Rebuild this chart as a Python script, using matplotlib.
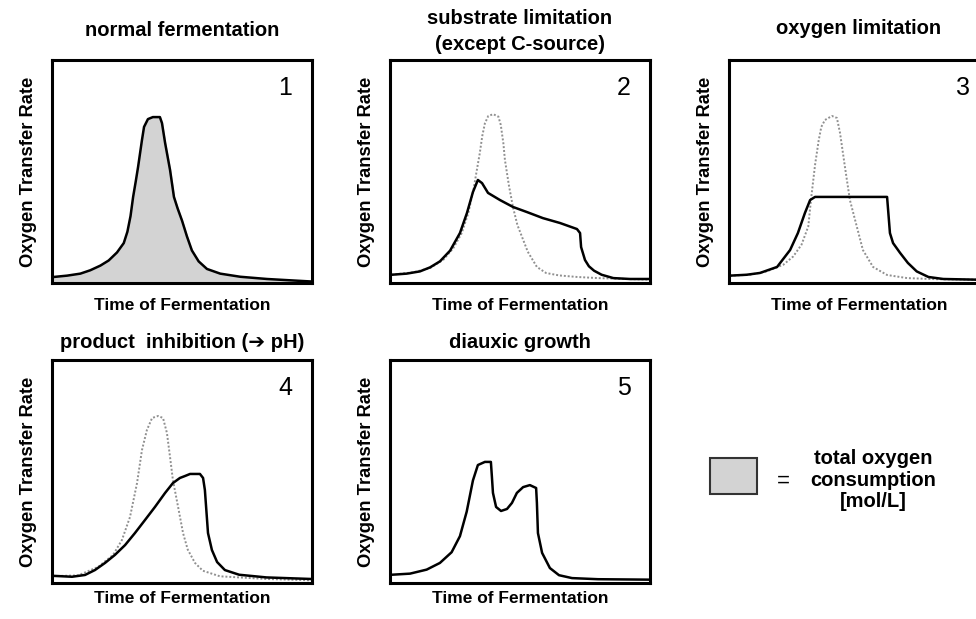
import matplotlib.pyplot as plt
from matplotlib.patches import Rectangle

plt.rcParams['font.family'] = ['Liberation Sans', 'DejaVu Sans']

# curves, x and y in percent of each panel box
normal_x = [0.6, 5.8, 10.9, 14.7, 18.6, 21.8, 25, 27.6, 29, 30.2, 31.2, 32.2, 33.1, 34.6, 35.4, 36.9,
            38.8, 41.5, 42.3, 43.5, 45.4, 46.9, 48.3, 50, 51.9, 53.8, 56.4, 59.6, 64.7, 72.4, 82.7, 91.7, 99.4]
normal_y = [2.7, 3.3, 4.2, 5.7, 7.8, 10.1, 13.7, 17.9, 23, 30, 38.6, 45.5, 52, 64.1, 70, 73.5,
            74.4, 74.4, 71.7, 62.8, 50.7, 38.6, 33.5, 28, 20.9, 14.6, 9.7, 6.3, 4.2, 2.8, 1.8, 1.2, 0.7]

ref2_x = [0.6, 9, 15.4, 20.5, 24.4, 27.6, 30.1, 32.1, 33.3, 34.5, 35.5, 36.5, 37.8, 39.7, 41.7,
          42.6, 43.6, 44.2, 45.7, 47.3, 49, 50.8, 53, 56.5, 60, 65, 72, 80, 99.4]
ref2_y = [3.7, 4.8, 6.7, 10.4, 15.7, 22.4, 31.3, 41.8, 50, 58, 66, 71.6, 74.9, 75.7, 74.6,
          70.9, 62.7, 55.2, 44, 34, 26, 20.6, 14, 7.2, 4.5, 3.4, 2.7, 2.2, 1.5]
sub_x = [0.6, 6.4, 11.5, 15.4, 19.2, 23.1, 26.9, 29.6, 31.9, 33.8, 35.4, 37.7, 42.3, 47.3,
         52.7, 58.8, 65.4, 71.9, 73.1, 73.5, 75, 76.5, 78.5, 81.4, 85.9, 92.3, 99.4]
sub_y = [3.7, 4.2, 5.2, 7, 9.7, 14.5, 22.4, 31.4, 40.8, 46.2, 44.8, 40.4, 37.2, 34.1,
         31.8, 29.1, 26.9, 24.2, 22.4, 16.1, 10.3, 7.5, 5.5, 3.7, 2.2, 1.8, 1.8]

ref3_x = [0.4, 8.1, 14.5, 20.9, 24.7, 27.9, 30.5, 31.5, 33.1, 34.5, 35.5, 36.9, 39.6, 41.5,
          42.7, 44.6, 46.5, 49.2, 51.5, 55.4, 60.8, 68.5, 80, 95]
ref3_y = [3.3, 3.7, 5.2, 8.2, 11.9, 17.2, 25.4, 37, 53, 64, 70, 73.1, 74.9, 74,
          67.3, 52, 37.2, 25.1, 14.8, 7.2, 3.6, 2.2, 1.7, 1.5]
oxy_x = [0.4, 6.8, 11.9, 18.5, 23.5, 26.5, 29.2, 31.2, 33.1, 60.8, 61.2, 61.9, 63.1, 65.8,
         68.8, 72.2, 76.7, 82.4, 95]
oxy_y = [3.3, 3.7, 4.5, 7.2, 14.8, 22.4, 31.4, 37.2, 38.6, 38.6, 32.7, 22.4, 17.9, 13.5,
         9, 5.2, 2.7, 1.8, 1.5]

ref4_x = [0.6, 10, 17.7, 23.5, 26.9, 30, 32.7, 34.6, 36.5, 38.5, 40.8, 42.7, 44.2, 45.4,
          46.5, 48.5, 50.4, 52.2, 55, 58, 64.6, 82.5, 99.7]
ref4_y = [3.1, 3.4, 7.2, 12.6, 19.3, 29.6, 44.8, 59.6, 68.6, 74, 74.9, 74, 67.3, 56.5,
          46.2, 34.1, 22.4, 15, 9, 5.5, 3, 1.8, 1.2]
prod_x = [0.6, 7.7, 12.7, 16.5, 20.4, 24.2, 28.1, 31.9, 35.8, 39.6, 43.5, 46.5, 49.2, 51.2,
          53.1, 56.9, 58.1, 58.8, 60, 61.5, 63.5, 66.5, 72, 82.5, 99.7]
prod_y = [3.2, 2.8, 3.6, 5.8, 9, 12.6, 17, 22.4, 28.3, 34.1, 40.4, 44.8, 47.1, 48,
          48.9, 48.9, 47.1, 41.7, 22.4, 14.8, 9.4, 5.8, 3.7, 2.5, 1.8]

diaux_x = [0.6, 7.7, 14.1, 19.2, 23.7, 26.9, 29.5, 31.9, 33.8, 36.5, 38.8, 39.2, 39.6, 40.8,
           42.7, 45, 46.9, 48.8, 51.2, 53.8, 56.2, 56.5, 56.9, 58.5, 61.5, 65, 70, 80, 100]
diaux_y = [3.7, 4.2, 6, 9, 13.8, 21, 32, 46, 52.9, 54.3, 54.3, 47.5, 40.4, 34.1,
           32.3, 33.2, 35.9, 40.4, 43, 43.9, 42.6, 35.9, 22.4, 13.5, 6.7, 3.5, 2.2, 1.7, 1.5]

titles = ['normal fermentation', 'substrate limitation\n(except C-source)', 'oxygen limitation',
          'product  inhibition (\u2794 pH)', 'diauxic growth']
numbers = ['1', '2', '3', '4', '5']

W, H = 976, 619
fig = plt.figure(figsize=(9.76, 6.19), dpi=100)

# panel boxes in pixels: left, top, width, height
boxes = [(52, 60, 260, 223), (390, 60, 260, 223), (729, 60, 260, 223),
         (52, 360, 260, 223), (390, 360, 260, 223)]
title_y = [30, 31.5, 28, 343, 343]
xpads = [11, 11, 11, 6, 6]

axes = []
for (l, t, w, h), xp in zip(boxes, xpads):
    ax = fig.add_axes([l / W, 1 - (t + h) / H, w / W, h / H])
    ax.set_xlim(0, 100)
    ax.set_ylim(0, 100)
    ax.set_xticks([])
    ax.set_yticks([])
    for s in ax.spines.values():
        s.set_linewidth(2.2)
    ax.set_xlabel('Time of Fermentation', fontsize=12.5, fontweight='bold', labelpad=xp)
    ax.set_ylabel('Oxygen Transfer Rate', fontsize=13.2, fontweight='bold', labelpad=11)
    axes.append(ax)

for ax, (l, t, w, h), ty, ttl, n in zip(axes, boxes, title_y, titles, numbers):
    fig.text((l + 130) / W, 1 - ty / H, ttl, ha='center', va='center',
             fontsize=14.5, fontweight='bold', linespacing=1.4)
    ax.text(0.925, 0.875, n, transform=ax.transAxes, ha='right', va='center', fontsize=18)

dot = dict(color='#909090', lw=1.4, ls=(0, (1, 1)))
solid = dict(color='black', lw=1.8, solid_joinstyle='round')

axes[0].fill_between(normal_x, normal_y, 0, color='#d3d3d3')
axes[0].plot(normal_x, normal_y, **solid)

axes[1].plot(ref2_x, ref2_y, **dot)
axes[1].plot(sub_x, sub_y, **solid)

axes[2].plot(ref3_x, ref3_y, **dot)
axes[2].plot(oxy_x, oxy_y, **solid)

axes[3].plot(ref4_x, ref4_y, **dot)
axes[3].plot(prod_x, prod_y, **solid)

axes[4].plot(diaux_x, diaux_y, **solid)

# legend: shaded box = total oxygen consumption
fig.patches.append(Rectangle((710 / W, 1 - 494 / H), 47 / W, 36 / H, transform=fig.transFigure,
                             facecolor='#d3d3d3', edgecolor='#333333', lw=1.5))
fig.text(783 / W, 1 - 481 / H, '=', ha='center', va='center', fontsize=16)
fig.text(873 / W, 1 - 480 / H, 'total oxygen\nconsumption\n[mol/L]', ha='center', va='center',
         fontsize=14.5, fontweight='bold', linespacing=1.17)

fig.savefig('out.png', dpi=100)
